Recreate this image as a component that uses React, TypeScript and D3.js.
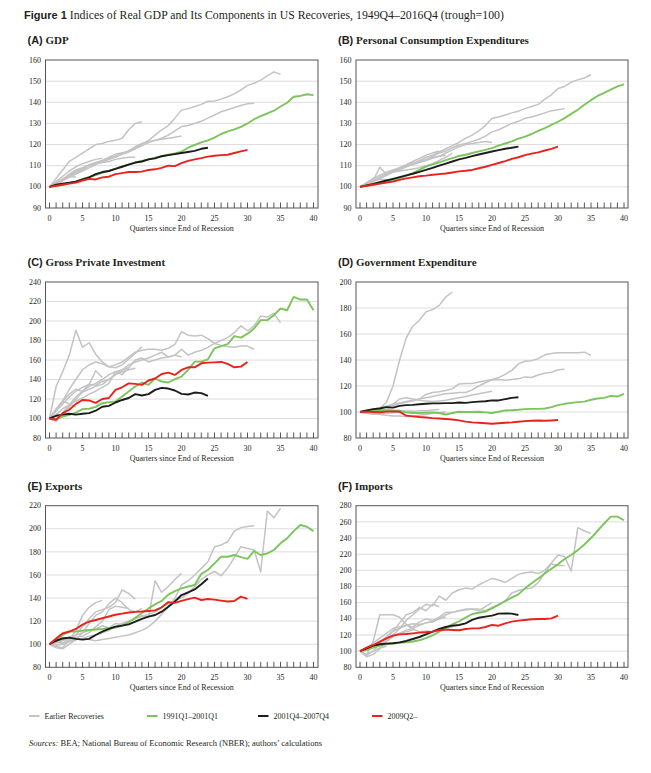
import React from "react";
import * as d3 from "d3";

// ---------- DATA ----------
const quarterTicks = [0, 5, 10, 15, 20, 25, 30, 35, 40];
const legendLabels = ["Earlier Recoveries", "1991Q1–2001Q1", "2001Q4–2007Q4", "2009Q2–"];
const panelLetters = ["(A)", "(B)", "(C)", "(D)", "(E)", "(F)"];
const panelNames = ["GDP", "Personal Consumption Expenditures", "Gross Private Investment", "Government Expenditure", "Exports", "Imports"];

// (A) GDP
const gdpEarlier = [
  [100,104,108,112,114,116,118,120,120.5,121.5,122,123,127,130,130.8],
  [100,101.5,103.5,106,108,109,110,111,111.5,112,113,113.5,114,114],
  [100,102.5,105,107.5,109.5,111,112,113,113.5],
  [100,101.5,103,104.5,106,107.5,109,110.5,112,113,114.5,116,117,118.5,120,122,124.5,127,129,132.5,136.3,137,138,139,140.5,140.6,141.5,142.6,144,145.8,148,149,150.5,152.5,154.4,153.2],
  [100,101,103,105,106.5,108,110,111,112.5,114,115.5,116,116.5],
  [100,101.5,103,105,107,108.5,110,111,112,113,114,115.5,117,119,120.5,121.5,122,122.5,123,123.5,124],
  [100,101.9,103.8,105,104.5],
  [100,101,103,105.5,107.5,109,110.5,111.5,112.5,113.5,114.5,115.5,116.5,118,119.5,121,122,123,124.5,126.5,128.5,129,130,131,132.5,134,135.5,136.5,137.5,138.5,139.3,139.5],
];
const gdpG91 = [100,100.5,101,101.8,102.6,103.6,104.6,105.6,106.6,107.6,108.6,109.6,110.6,111.5,112.3,113,113.8,114.5,115.2,115.8,116.7,118.5,119.8,121,122,123.3,125,126.2,127.2,128.4,130,132,133.5,134.7,136,138,139.8,142.6,143,143.8,143.4];
const gdpB01 = [100,101,101.5,102,102.5,103.5,104.5,106,107,107.5,108.5,109.5,110.5,111.5,112,113,113.5,114.5,115,115.5,116,116.5,117,118,118.5];
const gdpR09 = [100,100.5,101,101.5,102,103,103.8,103.5,104.5,104.8,106,106.5,107,107,107.2,108,108.3,109,110,109.8,111.2,112.3,113,113.6,114.3,114.7,115,115.2,116,116.8,117.5];

// (B) PCE
const pceEarlier = [
  [100,101.5,103,109.3,106,107,107.5,108,108.5,109,110,111,112.5,114,116],
  [100,101.5,103,104.5,106,107.5,109,110,111,112,113,114,114.5,115],
  [100,102,104,105.5,107,108,109,110,111],
  [100,101,102.5,104,105.5,107,108,109.5,111,112.5,114,115,116.5,118,119.5,121,123,124.5,126.5,129,132.4,133,134,135,135.8,137,138,139,141.5,143.5,146.5,147.5,149.5,150.6,151.5,153],
  [100,101.5,103,104.5,106,107.5,109,110.5,112,113.5,115,116,117],
  [100,101.5,103,104.5,106,107.5,108.5,109.5,110.5,111.5,112.5,113.5,114.5,116,117.5,119,120,120.5,121,121.5,121],
  [100,101.5,103,103.5,103.5],
  [100,101,102.5,104,105.5,107,108.5,110,111,112,113,114.5,116,117,118.5,119.8,120.5,121.5,122.5,124,126,127,128.5,130,131,132.4,133,134,135,136,136.5,137],
];
const pceG91 = [100,100.5,101,101.5,102.3,103.2,104.2,105.2,106.5,108,109.6,110.6,111.6,112.6,113.6,114.6,115.2,116,116.8,117.5,118.3,119.5,120.5,121.5,122.8,123.8,125,126.5,127.8,129.3,130.8,132.5,134.5,136.5,138.8,141,143,144.5,146,147.5,148.5];
const pceB01 = [100,100.7,101.4,102.2,103,103.8,104.6,105.4,106.2,107.1,108,109,110,111,112,113,113.7,114.5,115.3,116,116.7,117.4,118,118.5,119];
const pceR09 = [100,100.5,101,101.5,102,102.5,103.3,104,104.5,105,105.3,105.7,106,106.3,106.8,107.3,107.6,108,108.8,109.5,110.4,111.3,112.2,113.2,114,115,115.7,116.3,117.2,118,119];

// (C) Gross Private Investment
const invEarlier = [
  [100,132.8,148,165,190.6,173,177.7,166,158,153,152,155,161,167,173.6],
  [100,98,104,112,120,127,130,133,135,140,145,148,150,151.5],
  [100,108,118,125,130,128,135,149,142],
  [100,104,110,114,118,121,125,128,132,136,148,145,152,160,162,158,160,162,163,165,171,165,168,170,173,177,180,183,188,195,190,195,205,204,208,198],
  [100,108,115,122,128,132,135,134,138,140,145,150,152],
  [100,97,106,114,122,128,133,136,140,145,148,150,155,158,160,162,165,168,163,165,163],
  [100,110,118,115,112],
  [100,108,118,130,140,150,155,158,156,153,155,158,163,168,170,171,171,170,172,176,189,185.5,184.5,185.5,182,177,175,173.6,173,174.3,174.3,171],
];
const invG91 = [100,99.4,102,103.8,106,109.6,110,112,115.7,116.8,117.4,122.6,127.7,132.8,136.9,134.5,141,137.9,136.9,140.3,143,149.8,158.3,158.3,160.7,172,174.3,176.3,184.5,183,187,192.3,200.9,200.9,206,212.8,211,224.7,222,222,211];
const invB01 = [100,102.8,104,104.9,104,104.9,105.5,108,112,113,116.4,119,121,125,123.6,125,129.4,131.4,130.7,128.7,125.3,124.6,126.6,126,123.2];
const invR09 = [100,98.7,105.5,109,115,119,118.5,116,120,121,129.4,132,136,135.5,134.5,139,141,145.7,147,144.7,149.8,152.5,152.5,156.6,157.3,157.6,158,156,152.5,153.2,158];

// (D) Government Expenditure
const govEarlier = [
  [100,100,101,103,107.3,120,140,157,166,170.6,177,178.8,182,188.5,192.3],
  [100,99,98.5,98,97.5,97,97,96.5,97,97.5,98,99,99.5,100],
  [100,101,102,102,101.5,101,100.5,100.5,100.5],
  [100,101,102,103,104,105,106.5,107.5,108.5,110,113.5,115,115.5,116.5,118,121.6,122,122,123,124,125,126.5,129,132,137,139,139.5,141,144,145,145.5,145.5,145.5,145.5,146,143.5],
  [100,99.5,99,99,99,99.5,100,100.5,100.5,101,101,101.5,102],
  [100,101,102,103,104,106,110,111,110,109,108.5,108,108.5,109,110,111,112,113,114,115,116],
  [100,99,98.5,99,99.5],
  [100,101,102,103,104.5,106,107,108,109,110,111,112,113,114,114.5,115,115,117,120,122.5,124.7,125,124.5,125,125.5,127,126.5,128.5,129.8,130.5,132.5,132.8],
];
const govG91 = [100,100.5,101,101.2,101.3,101.2,101,99.7,99.2,99.2,99.4,99.7,99.2,98.1,99.2,100.2,100,100,100.2,99.7,99.2,100.2,101.2,101.4,101.7,102.2,102.4,102.4,102.7,103.7,105.3,106.3,107,107.6,108,109.4,110.4,110.9,112.4,111.9,114];
const govB01 = [100,101.2,102.2,102.7,103.7,103.4,104.7,105.3,105.5,106,106.3,106.6,106.6,106.8,106.8,107.3,107,107.6,108,108.3,108.9,108.9,109.9,110.9,111.4];
const govR09 = [100,100.3,100,99.8,100.3,100.5,100.2,97.2,96.6,96.1,95.8,95.3,95,94.6,94.2,93.6,92.6,92,91.7,91.3,91,91.3,91.7,92,92.5,93,93.3,93.5,93.3,93.5,93.8];

// (E) Exports
const expEarlier = [
  [100,97,96,100,104,110,118,125,128,135,140,136,130,128,131],
  [100,101,103,105,108,115,122,128,130,132,136,147,144,139],
  [100,98,97,104,112,125,132,136,138],
  [100,102,104,106,108,110,112,113,116,114,118,117,120,122,124,126,128,132,135,138,140,144,150,156,160,163,159.4,166,175,184.5,183,181.6,162.8,215.4,209.6,217.7],
  [100,103,101,104,106,107,110,115,120,130,133,132,131],
  [100,99,101,103,104,105,107,108,110,112,115,118,120,122,125,123,154.8,145,150,156,161.4],
  [100,104,106,105,103],
  [100,99,100,102,104,105,104,103,104,105,106,107,108,110,112,115,120,126,132,140,151.3,155,160,165.7,171.5,184.5,186,188.8,198,201,202,202.7],
];
const expG91 = [100,104,108,110.9,111,111.8,112.3,112.8,113.2,113.8,114.5,116,119,123,127,131,134.5,137.5,143,146,148.4,150,151.3,161,164.3,170,175.8,175.8,177.3,175.5,174,180.8,177.3,178.7,181.6,187.4,191.7,198,203.3,201.8,198];
const expB01 = [100,103,105,105.7,104.6,104,104.6,108,110.9,113.2,115.2,116.1,117.2,119.5,121.9,123.9,125.3,128.2,132.5,137,142.6,145,147.5,152,157];
const expR09 = [100,105,109.4,111,113.2,117,119.5,121,122.5,124,125.5,126.5,127.5,128,128.3,128.8,129.3,132,136.5,135.8,137.5,139,140.3,138.3,139.2,138.6,137.8,137,137.4,141.2,139.2];

// (F) Imports
const impEarlier = [
  [100,95,112,145,145,145,142,133,127,124,125,124,126,128,130],
  [100,102,105,108,112,118,122,126,128,132,135,136,140,142],
  [100,93,96,103,112,120,122,124,126],
  [100,101,105,110,115,120,128,138,145,152,158,156,168,163,172,176,178,177,182,186,190,188,185,190,195,197,198,196,200,209,219,217,199,252.8,248.7,245.8],
  [100,102,105,110,115,125,135,145,148,154,150,158,155],
  [100,95,100,110,118,125,128,132,130,136,140,138,142,148,148,150,152,152,150,155,160],
  [100,96,100,104,106],
  [100,104,110,116,122,128,130,132,134,133,135,137,140,145,148,150,151,152,152,150,154,158,162,172,175,177,178,185,197,208,206,206],
];
const impG91 = [100,101.5,104.3,106.8,108.5,109.5,110.3,111,112,113.5,116,119.5,124,129,133,137,141.5,146,147.5,149,153,157.1,162,166.2,170.3,177.7,184,190,196,202,207.4,214,219,225,232,240,249,258,266.5,266.5,262];
const impB01 = [100,103.5,106.8,108.5,109.3,109.7,110.9,112.6,115,117.5,120.8,124.1,127.4,129.9,131.5,132.4,134.4,138.6,141.4,142.7,143.9,146.4,146.8,146.4,144.7];
const impR09 = [100,104.3,107.6,111.8,115.9,119.2,120.8,121.2,122,122.9,123.3,124.1,125.8,126.6,126.2,125.8,127.4,128.2,128.2,129.9,132.4,131.5,134.4,136.5,137.7,138.6,139.4,139.8,139.8,140.6,143.9];

const yDomains = [[90, 160, 10], [90, 160, 10], [80, 240, 20], [80, 200, 20], [80, 220, 20], [80, 280, 20]];

// ---------- STYLE / LAYOUT ----------
const SERIF = "'Liberation Serif', 'DejaVu Serif', serif";
const SANS = "'Liberation Sans', Arial, sans-serif";
const C_GRAY = "#c3c3c3";
const C_GREEN = "#7cc45c";
const C_BLACK = "#1c1c1c";
const C_RED = "#e8231d";

const rows = [
  { top: 60, bottom: 208 },
  { top: 282, bottom: 438 },
  { top: 505.7, bottom: 667.3 },
];
const cols = [
  { x0: 49.5, boxL: 45.5, boxR: 318 },
  { x0: 360, boxL: 356, boxR: 628 },
];

const panelData = [
  { earlier: gdpEarlier, g: gdpG91, b: gdpB01, r: gdpR09 },
  { earlier: pceEarlier, g: pceG91, b: pceB01, r: pceR09 },
  { earlier: invEarlier, g: invG91, b: invB01, r: invR09 },
  { earlier: govEarlier, g: govG91, b: govB01, r: govR09 },
  { earlier: expEarlier, g: expG91, b: expB01, r: expR09 },
  { earlier: impEarlier, g: impG91, b: impB01, r: impR09 },
];

function Panel({ idx }: { idx: number }) {
  const row = rows[Math.floor(idx / 2)];
  const col = cols[idx % 2];
  const [yMin, yMax, step] = yDomains[idx];
  const d = panelData[idx];
  const xs = d3.scaleLinear().domain([0, 40]).range([col.x0, col.x0 + 264]);
  const ys = d3.scaleLinear().domain([yMin, yMax]).range([row.bottom, row.top]);
  const line = d3
    .line<number>()
    .x((_, i) => xs(i))
    .y((v) => ys(v))
    .curve(d3.curveLinear);
  const yTicks = d3.range(yMin, yMax + step / 2, step);
  const gridTicks = yTicks.filter((t) => t !== yMin && t !== yMax);
  const minor = d3.range(0, 41);
  const midX = (col.boxL + col.boxR) / 2;
  return (
    <g>
      <text x={col.boxL - 18} y={row.top - 16} fontSize={11} fill="#231f20">
        <tspan fontFamily={SANS} fontWeight="bold">{panelLetters[idx]}</tspan>
        <tspan fontFamily={SERIF} fontWeight="bold">{" " + panelNames[idx]}</tspan>
      </text>
      {gridTicks.map((t) => (
        <line key={"g" + t} x1={col.boxL} x2={col.boxR} y1={ys(t)} y2={ys(t)} stroke="#dcdcdc" strokeWidth={1} />
      ))}
      {yTicks.map((t) => (
        <text key={"yl" + t} x={col.boxL - 4.5} y={ys(t)} dy="0.33em" textAnchor="end" fontFamily={SERIF} fontSize={8} fill="#231f20">
          {t}
        </text>
      ))}
      {minor.map((q) => (
        <line key={"m" + q} x1={xs(q)} x2={xs(q)} y1={row.bottom} y2={row.bottom - 5.5} stroke="#444" strokeWidth={0.9} />
      ))}
      {quarterTicks.map((q) => (
        <text key={"xl" + q} x={xs(q)} y={row.bottom + 12.5} textAnchor="middle" fontFamily={SERIF} fontSize={8} fill="#231f20">
          {q}
        </text>
      ))}
      <text x={midX} y={row.bottom + 23} textAnchor="middle" fontFamily={SERIF} fontSize={8} fill="#231f20">
        Quarters since End of Recession
      </text>
      {d.earlier.map((s, i) => (
        <path key={"e" + i} d={line(s) || ""} fill="none" stroke={C_GRAY} strokeWidth={1.5} strokeLinejoin="round" />
      ))}
      <path d={line(d.g) || ""} fill="none" stroke={C_GREEN} strokeWidth={1.9} strokeLinejoin="round" />
      <path d={line(d.b) || ""} fill="none" stroke={C_BLACK} strokeWidth={1.9} strokeLinejoin="round" />
      <path d={line(d.r) || ""} fill="none" stroke={C_RED} strokeWidth={1.9} strokeLinejoin="round" />
      <rect x={col.boxL} y={row.top} width={col.boxR - col.boxL} height={row.bottom - row.top} fill="none" stroke="#555" strokeWidth={1} />
    </g>
  );
}

const legendColors = [C_GRAY, C_GREEN, C_BLACK, C_RED];
const legendX = [29, 147, 258, 372];

export default function App() {
  return (
    <svg width={651} height={773} style={{ position: "absolute", left: 0, top: 0, background: "#fff" }}>
      <rect x={0} y={0} width={651} height={773} fill="#fff" />
      <text x={24} y={19} fontSize={11.8} fill="#231f20">
        <tspan fontFamily={SANS} fontWeight="bold" fontSize={11}>Figure 1</tspan>
        <tspan fontFamily={SERIF}>{" Indices of Real GDP and Its Components in US Recoveries, 1949Q4–2016Q4 (trough=100)"}</tspan>
      </text>
      {[0, 1, 2, 3, 4, 5].map((i) => (
        <Panel key={i} idx={i} />
      ))}
      {legendLabels.map((l, i) => (
        <g key={l}>
          <line x1={legendX[i]} x2={legendX[i] + 10.5} y1={716} y2={716} stroke={legendColors[i]} strokeWidth={2} />
          <text x={legendX[i] + 15.5} y={716} dy="0.33em" fontFamily={SERIF} fontSize={8} fill="#231f20">
            {l}
          </text>
        </g>
      ))}
      <text x={29} y={746} fontFamily={SERIF} fontSize={8.5} fill="#231f20">
        <tspan fontStyle="italic">Sources:</tspan>
        <tspan>{" BEA; National Bureau of Economic Research (NBER); authors’ calculations"}</tspan>
      </text>
    </svg>
  );
}
